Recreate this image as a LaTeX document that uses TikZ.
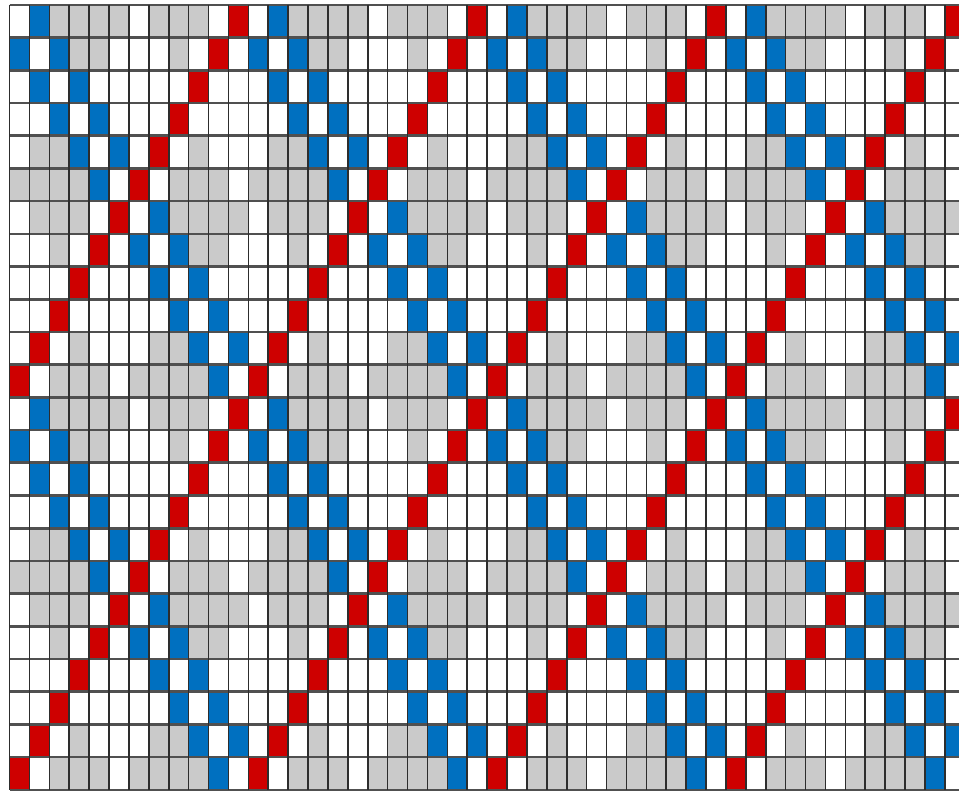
\documentclass[tikz,border=0pt]{standalone}
\definecolor{cellred}{RGB}{206,0,0}
\definecolor{cellblue}{RGB}{0,112,192}
\definecolor{cellgray}{RGB}{202,202,202}
\definecolor{vline}{RGB}{45,45,45}
\definecolor{hline}{RGB}{80,80,80}
\tikzset{
  redcell/.style={fill=cellred},
  bluecell/.style={fill=cellblue},
  graycell/.style={fill=cellgray},
  vgrid/.style={draw=vline,line width=1.6pt},
  hgrid/.style={draw=hline,line width=2.6pt}
}
\begin{document}
\begin{tikzpicture}[x=1pt,y=-1pt]
\def\xo{9.5}
\def\yo{5}
\def\cw{19.9}
\def\ch{32.7}
\useasboundingbox (0,0) rectangle (959,791);
\clip (0,0) rectangle (959,791);
\fill[white] (0,0) rectangle (959,791);
% gray background tile (12 x 12, repeated)
\foreach \r/\cols in {0/{2,3,4,5,7,8,9},1/{3,4,8},4/{1,2,9},5/{0,1,2,3,8,9,10},6/{1,2,3,8,9,10,11},7/{2,9,10},10/{3,7,8},11/{2,3,4,6,7,8,9}}{
  \foreach \R in {0,12}{
    \foreach \C in {0,12,24,36}{
      \foreach \c in \cols{
        \path[graycell] ({\xo+(\C+\c)*\cw},{\yo+(\R+\r)*\ch}) rectangle ++(\cw,\ch);
      }
    }
  }
}
% blue double diagonals and red diagonals
\foreach \r in {0,...,23}{
  \foreach \c in {0,...,47}{
    \pgfmathtruncatemacro{\d}{mod(\c-\r+48,12)}
    \pgfmathtruncatemacro{\s}{mod(\c+\r,12)}
    \ifnum\s=11
      \path[redcell] ({\xo+\c*\cw},{\yo+\r*\ch}) rectangle ++(\cw,\ch);
    \else
      \ifnum\d=1
        \path[bluecell] ({\xo+\c*\cw},{\yo+\r*\ch}) rectangle ++(\cw,\ch);
      \else
        \ifnum\d=11
          \path[bluecell] ({\xo+\c*\cw},{\yo+\r*\ch}) rectangle ++(\cw,\ch);
        \fi
      \fi
    \fi
  }
}
% grid lines
\foreach \r in {0,...,24}{
  \draw[hgrid] (\xo,{\yo+\r*\ch}) -- (960,{\yo+\r*\ch});
}
\foreach \c in {0,...,48}{
  \draw[vgrid] ({\xo+\c*\cw},\yo) -- ({\xo+\c*\cw},{\yo+24*\ch});
}
\end{tikzpicture}
\end{document}
